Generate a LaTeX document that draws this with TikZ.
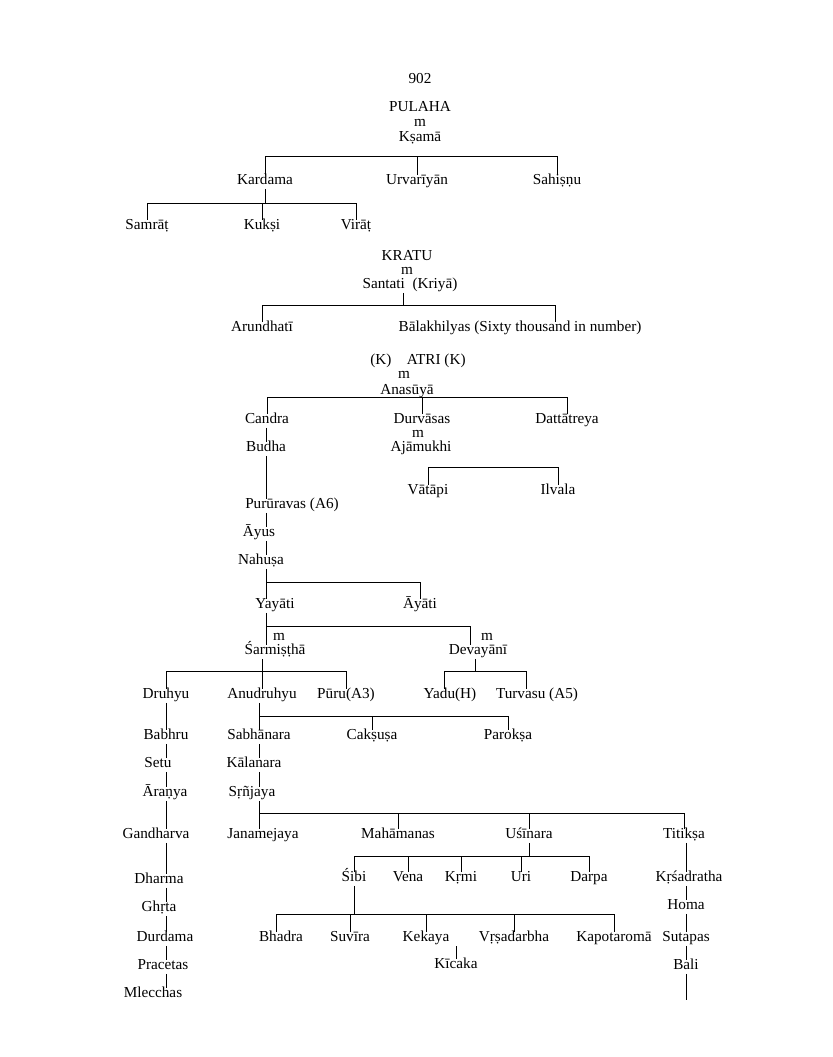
\documentclass[tikz,border=0pt]{standalone}
\usepackage{fontspec}
\setmainfont{Liberation Serif}
\usetikzlibrary{calc}
\begin{document}
\begin{tikzpicture}[x=0.03cm,y=-0.03cm,line width=0.5pt,
  every node/.style={inner sep=1pt,yshift=-2.5pt,text height=1.5ex,text depth=0.5ex,font=\fontsize{13}{15}\selectfont}]
\useasboundingbox (0,-3) rectangle (832,1054);
% Pulaha
\node (page) at (420,75) {902};
\node (pulaha) at (420,103) {PULAHA};
\node (m1) at (420,118) {m};
\node (ksama) at (420,133) {Kṣamā};
\node (kardama) at (265,176) {Kardama};
\node (urvariyan) at (417,176) {Urvarīyān};
\node (sahisnu) at (557,176) {Sahiṣṇu};
\node (samrat) at (147,221) {Samrāṭ};
\node (kuksi) at (262,221) {Kukṣi};
\node (virat) at (356,221) {Virāṭ};
% Kratu
\node (kratu) at (407,252) {KRATU};
\node (m2) at (407,266) {m};
\node (santati) at (410,280) {Santati\enspace(Kriyā)};
\node (arundhati) at (262,323) {Arundhatī};
\node (balakhilyas) at (520,323) {Bālakhilyas (Sixty thousand in number)};
% Atri
\node (atri) at (418,356) {(K)\quad ATRI (K)};
\node (m3) at (404,370) {m};
\node (anasuya) at (407,386) {Anasūyā};
\node (candra) at (267,415) {Candra};
\node (durvasas) at (422,415) {Durvāsas};
\node (dattatreya) at (567,415) {Dattātreya};
\node (budha) at (266,443) {Budha};
\node (m4) at (418,429) {m};
\node (ajamukhi) at (421,443) {Ajāmukhi};
\node (vatapi) at (428,486) {Vātāpi};
\node (ilvala) at (558,486) {Ilvala};
\node (pururavas) at (292,500) {Purūravas (A6)};
\node (ayus) at (259,528) {Āyus};
\node (nahusa) at (261,556) {Nahuṣa};
\node (yayati) at (275,600) {Yayāti};
\node (ayati) at (420,600) {Āyāti};
\node (m5) at (279,632) {m};
\node (sarmistha) at (275,646) {Śarmiṣṭhā};
\node (m6) at (487,632) {m};
\node (devayani) at (478,646) {Devayānī};
\node (druhyu) at (166,690) {Druhyu};
\node (anudruhyu) at (262,690) {Anudruhyu};
\node (puru) at (346,690) {Pūru(A3)};
\node (yadu) at (450,690) {Yadu(H)};
\node (turvasu) at (537,690) {Turvasu (A5)};
\node (babhru) at (166,731) {Babhru};
\node (sabhanara) at (259,731) {Sabhānara};
\node (caksusa) at (372,731) {Cakṣuṣa};
\node (paroksa) at (508,731) {Parokṣa};
\node (setu) at (158,759) {Setu};
\node (kalanara) at (254,759) {Kālanara};
\node (aranya) at (165,788) {Āraṇya};
\node (srnjaya) at (252,788) {Sṛñjaya};
\node (gandharva) at (156,830) {Gandharva};
\node (janamejaya) at (263,830) {Janamejaya};
\node (mahamanas) at (398,830) {Mahāmanas};
\node (usinara) at (529,830) {Uśīnara};
\node (titiksa) at (684,830) {Titikṣa};
\node (sibi) at (354,873) {Śibi};
\node (vena) at (408,873) {Vena};
\node (krmi) at (461,873) {Kṛmi};
\node (uri) at (521,873) {Uri};
\node (darpa) at (589,873) {Darpa};
\node (krsadratha) at (689,873) {Kṛśadratha};
\node (dharma) at (159,875) {Dharma};
\node (homa) at (686,901) {Homa};
\node (ghrta) at (159,903) {Ghṛta};
\node (bhadra) at (281,933) {Bhadra};
\node (suvira) at (350,933) {Suvīra};
\node (kekaya) at (426,933) {Kekaya};
\node (vrsadarbha) at (514,933) {Vṛṣadarbha};
\node (kapotaroma) at (614,933) {Kapotaromā};
\node (sutapas) at (686,933) {Sutapas};
\node (durdama) at (165,933) {Durdama};
\node (kicaka) at (456,960) {Kīcaka};
\node (bali) at (686,961) {Bali};
\node (pracetas) at (163,961) {Pracetas};
\node (mlecchas) at (153,989) {Mlecchas};
\coordinate (balidown) at (690,994);
% bars (nodes are shifted down 3, so are these)
\coordinate (barA) at (0,150);
\coordinate (barB) at (0,197);
\coordinate (barC) at (0,299);
\coordinate (barD) at (0,391);
\coordinate (barE) at (0,461);
\coordinate (barF) at (0,576);
\coordinate (barG) at (0,620);
\coordinate (barH) at (0,665);
\coordinate (barI) at (0,710);
\coordinate (barJ) at (0,807);
\coordinate (barK) at (0,850);
\coordinate (barL) at (0,908);
% Pulaha lines
\draw (kardama.north) -- (kardama.north |- barA) -- (sahisnu.north |- barA) -- (sahisnu.north);
\draw (urvariyan.north) -- (urvariyan.north |- barA);
\draw (kardama.south) -- (kardama.south |- barB);
\draw (samrat.north) -- (samrat.north |- barB) -- (virat.north |- barB) -- (virat.north);
\draw (kuksi.north) -- (kuksi.north |- barB);
% Kratu lines
\draw ($(santati.south -| kratu)+(-4,0)$) -- ($(barC -| kratu)+(-4,0)$);
\draw (arundhati.north) -- (arundhati.north |- barC) -- ($(balakhilyas.north |- barC)+(35,0)$) -- ($(balakhilyas.north)+(35,0)$);
% Atri lines
\draw (candra.north) -- (candra.north |- barD) -- (dattatreya.north |- barD) -- (dattatreya.north);
\draw (durvasas.north) -- (durvasas.north |- barD);
\draw (candra.south -| budha) -- (budha.north);
\draw (vatapi.north) -- (vatapi.north |- barE) -- (ilvala.north |- barE) -- (ilvala.north);
\draw (budha.south) -- (pururavas.north -| budha);
\draw (pururavas.south -| budha) -- (ayus.north -| budha);
\draw (ayus.south -| budha) -- (nahusa.north -| budha);
\draw (nahusa.south -| budha) -- (yayati.north -| budha);
\draw (barF -| budha) -- (barF -| ayati) -- (ayati.north);
\draw (yayati.south -| budha) -- (sarmistha.north -| budha);
\draw (barG -| budha) -- ($(devayani.north |- barG)+(-8,0)$) -- ($(devayani.north)+(-8,0)$);
% Sarmistha and Devayani
\draw (sarmistha.south -| anudruhyu) -- (anudruhyu.north);
\draw (druhyu.north) -- (druhyu.north |- barH) -- (puru.north |- barH) -- (puru.north);
\draw ($(devayani.south)+(-3,0)$) -- ($(devayani.south |- barH)+(-3,0)$);
\draw ($(yadu.north)+(-6,0)$) -- ($(yadu.north |- barH)+(-6,0)$) -- ($(turvasu.north |- barH)+(-11,0)$) -- ($(turvasu.north)+(-11,0)$);
% Druhyu line
\foreach \a/\b in {druhyu/babhru,babhru/setu,setu/aranya,aranya/gandharva,gandharva/dharma,dharma/ghrta,ghrta/durdama,durdama/pracetas,pracetas/mlecchas}
  \draw (\a.south -| druhyu) -- (\b.north -| druhyu);
% Anudruhyu line
\draw (anudruhyu.south -| sabhanara) -- (sabhanara.north);
\draw (barI -| sabhanara) -- (paroksa.north |- barI) -- (paroksa.north);
\draw (caksusa.north) -- (caksusa.north |- barI);
\draw (sabhanara.south) -- (kalanara.north -| sabhanara);
\draw (kalanara.south -| sabhanara) -- (srnjaya.north -| sabhanara);
\draw (srnjaya.south -| sabhanara) -- (janamejaya.north -| sabhanara);
\draw (barJ -| sabhanara) -- (titiksa.north |- barJ) -- (titiksa.north);
\draw (mahamanas.north) -- (mahamanas.north |- barJ);
\draw (usinara.north) -- (usinara.north |- barJ);
% Usinara
\draw (usinara.south) -- (usinara.south |- barK);
\draw (sibi.north) -- (sibi.north |- barK) -- (darpa.north |- barK) -- (darpa.north);
\foreach \c in {vena,krmi,uri}
  \draw (\c.north) -- (\c.north |- barK);
% Sibi
\draw (sibi.south) -- (sibi.south |- barL);
\draw ($(bhadra.north)+(-5,0)$) -- ($(bhadra.north |- barL)+(-5,0)$) -- (kapotaroma.north |- barL) -- (kapotaroma.north);
\foreach \c in {suvira,kekaya,vrsadarbha}
  \draw (\c.north) -- (\c.north |- barL);
\draw (kicaka.north) -- (kicaka.north |- kekaya.south);
% Titiksa line
\foreach \a/\b in {titiksa/krsadratha,krsadratha/homa,homa/sutapas,sutapas/bali}
  \draw (\a.south -| homa) -- (\b.north -| homa);
\draw (bali.south -| homa) -- (balidown -| homa);
\end{tikzpicture}
\end{document}
